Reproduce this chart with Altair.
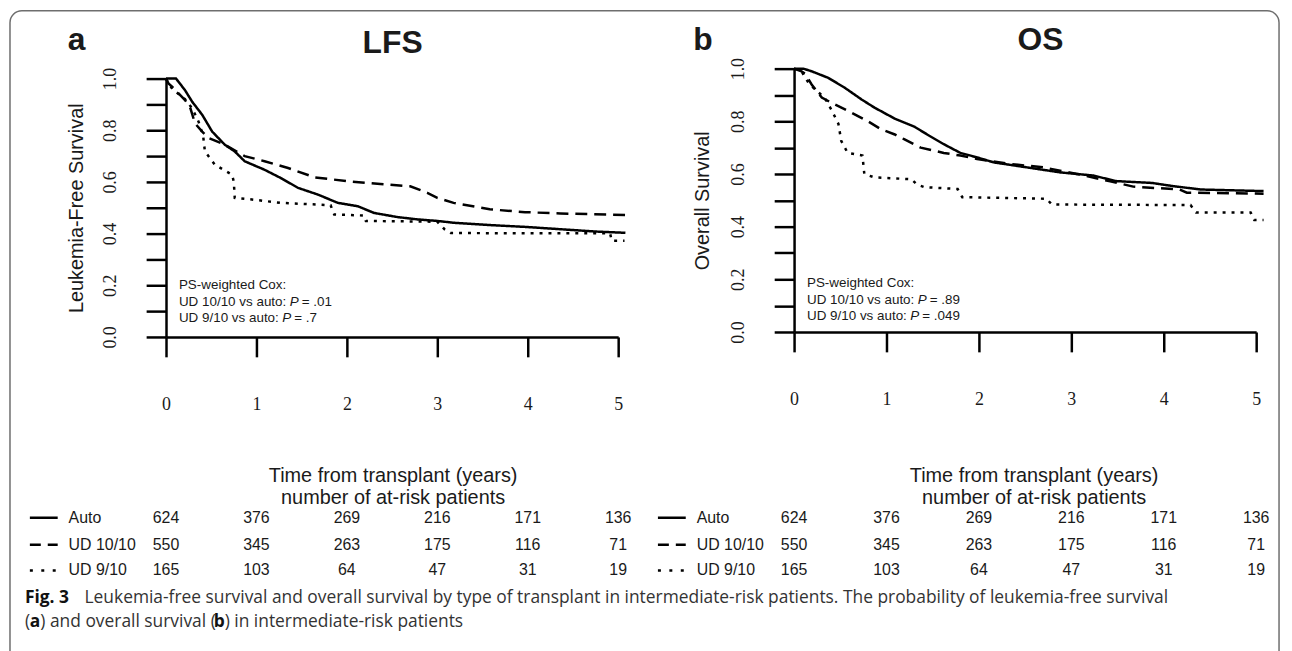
import altair as alt
import pandas as pd

# ---------------- data ----------------
groups = ["Auto", "UD 10/10", "UD 9/10"]

# LFS (panel a)
lfs_auto_t = [0, 0.11, 0.14, 0.21, 0.29, 0.40, 0.51, 0.65, 0.76, 0.87, 1.09, 1.27, 1.46, 1.68, 1.90, 2.12, 2.30, 2.56, 2.78, 3.0, 3.18, 3.58, 3.97, 4.36, 4.75, 5.08]
lfs_auto_s = [1.0, 1.0, 0.987, 0.955, 0.91, 0.86, 0.795, 0.744, 0.718, 0.68, 0.647, 0.615, 0.577, 0.551, 0.519, 0.506, 0.48, 0.464, 0.455, 0.449, 0.442, 0.433, 0.426, 0.417, 0.408, 0.403]
lfs_ud10_t = [0, 0.03, 0.07, 0.21, 0.27, 0.32, 0.40, 0.47, 0.65, 0.87, 1.09, 1.35, 1.64, 2.0, 2.37, 2.70, 2.89, 3.0, 3.18, 3.58, 3.97, 4.36, 5.08]
lfs_ud10_s = [1.0, 0.98, 0.968, 0.917, 0.885, 0.827, 0.795, 0.77, 0.744, 0.70, 0.68, 0.654, 0.618, 0.603, 0.592, 0.583, 0.558, 0.538, 0.519, 0.494, 0.483, 0.478, 0.472]
lfs_ud9_t = [0, 0.03, 0.07, 0.21, 0.29, 0.36, 0.41, 0.43, 0.54, 0.73, 0.75, 0.76, 0.95, 1.27, 1.82, 1.86, 2.19, 2.21, 3.0, 3.08, 3.15, 4.91, 4.93, 5.07]
lfs_ud9_s = [1.0, 0.98, 0.96, 0.92, 0.885, 0.833, 0.78, 0.718, 0.667, 0.628, 0.60, 0.538, 0.532, 0.519, 0.51, 0.474, 0.47, 0.449, 0.446, 0.417, 0.402, 0.401, 0.372, 0.372]

# OS (panel b)
os_auto_t = [0, 0.10, 0.19, 0.37, 0.55, 0.73, 0.87, 1.09, 1.30, 1.44, 1.62, 1.80, 1.98, 2.16, 2.52, 2.88, 3.24, 3.48, 3.87, 4.1, 4.4, 5.08]
os_auto_s = [1.0, 1.0, 0.99, 0.965, 0.927, 0.883, 0.852, 0.81, 0.78, 0.75, 0.713, 0.68, 0.663, 0.644, 0.625, 0.606, 0.594, 0.573, 0.566, 0.554, 0.541, 0.535]
os_ud10_t = [0, 0.08, 0.12, 0.19, 0.30, 0.44, 0.62, 0.80, 0.94, 1.09, 1.19, 1.37, 1.62, 1.80, 1.98, 2.34, 2.70, 3.06, 3.42, 3.67, 4.17, 4.25, 5.08]
os_ud10_s = [1.0, 0.99, 0.98, 0.94, 0.89, 0.864, 0.833, 0.80, 0.77, 0.75, 0.732, 0.70, 0.68, 0.67, 0.657, 0.638, 0.625, 0.60, 0.572, 0.552, 0.541, 0.529, 0.525]
os_ud9_t = [0, 0.08, 0.16, 0.23, 0.33, 0.41, 0.48, 0.51, 0.58, 0.74, 0.76, 0.87, 1.27, 1.33, 1.41, 1.77, 1.82, 2.73, 2.79, 4.29, 4.35, 4.94, 4.98, 5.08]
os_ud9_s = [1.0, 0.99, 0.944, 0.92, 0.89, 0.84, 0.79, 0.726, 0.68, 0.67, 0.60, 0.587, 0.58, 0.56, 0.55, 0.543, 0.512, 0.506, 0.484, 0.482, 0.454, 0.454, 0.425, 0.425]

# at-risk table
years = [0, 1, 2, 3, 4, 5]
risk_auto = [624, 376, 269, 216, 171, 136]
risk_ud10 = [550, 345, 263, 175, 116, 71]
risk_ud9 = [165, 103, 64, 47, 31, 19]

y_ticks = [0.0, 0.1, 0.2, 0.3, 0.4, 0.5, 0.6, 0.7, 0.8, 0.9, 1.0]

W, H = 1284, 643
SANS = "Liberation Sans"
SERIF = "Liberation Serif"
CAP = "Open Sans"
INK = "#1a1a1a"


def curves(series):
    rows = []
    for g, (ts, ss) in zip(groups, series):
        for i, (t, s) in enumerate(zip(ts, ss)):
            rows.append({"t": t, "s": s, "group": g, "i": i})
    return pd.DataFrame(rows)


def txt(text, x, y, size, font=SANS, align="left", baseline="middle",
        weight="normal", style="normal", color=INK):
    return alt.Chart(pd.DataFrame({"label": [text]})).mark_text(
        align=align, baseline=baseline, font=font, fontSize=size,
        fontWeight=weight, fontStyle=style, color=color
    ).encode(x=alt.value(x), y=alt.value(y), text="label:N")


def panel(series, xr, yr, ytitle, ytx, yty, xtx, xty, ann, base, row_y):
    x0 = xr[0]
    y_axis_pos = yr[0]
    xaxis = alt.Axis(
        orient="bottom", offset=y_axis_pos - H, values=years, format="d",
        tickSize=20, tickWidth=2.5, tickColor="black",
        domainWidth=2.5, domainColor="black", grid=False,
        labelFont=SERIF, labelFontSize=18, labelColor=INK, labelAngle=0,
        labelBaseline="middle", labelAlign="center", labelPadding=48,
        labelFlush=False, labelOverlap=False,
        title=["Time from transplant (years)", "number of at-risk patients"],
        titleFont=SANS, titleFontSize=20, titleFontWeight="normal",
        titleColor=INK, titleLineHeight=23, titleX=xtx, titleY=xty,
        titleAlign="center", titleBaseline="middle", titleAngle=0,
    )
    yaxis = alt.Axis(
        orient="left", offset=-x0, values=y_ticks,
        labelExpr="round(datum.value*10) % 2 == 0 ? format(datum.value, '.1f') : ''",
        tickSize=20, tickWidth=2.5, tickColor="black",
        domainWidth=2.5, domainColor="black", grid=False,
        labelFont=SERIF, labelFontSize=18, labelColor=INK, labelAngle=270,
        labelAlign="center", labelBaseline="middle", labelPadding=35.5,
        labelOverlap=False, labelFlush=False,
        title=ytitle, titleFont=SANS, titleFontSize=20,
        titleFontWeight="normal", titleColor=INK, titleAngle=270,
        titleAlign="center", titleBaseline="middle", titleX=ytx, titleY=yty,
    )
    xs = alt.Scale(domain=[0, 5], range=list(xr), nice=False, zero=False)
    ys = alt.Scale(domain=[0, 1], range=list(yr), nice=False, zero=False)

    lines = alt.Chart(curves(series)).mark_line(
        color="black", strokeWidth=2.5, strokeCap="butt", interpolate="linear"
    ).encode(
        x=alt.X("t:Q", scale=xs, axis=xaxis),
        y=alt.Y("s:Q", scale=ys, axis=yaxis),
        strokeDash=alt.StrokeDash(
            "group:N",
            scale=alt.Scale(domain=groups, range=[[1, 0], [12, 7], [3, 6]]),
            legend=None,
        ),
        detail="group:N",
        order="i:Q",
    )

    layers = [lines]
    # annotation
    ax, ay = ann["x"], ann["y"]
    layers.append(txt("PS-weighted Cox:", ax, ay[0], 13.5))
    layers.append(txt("UD 10/10 vs auto:", ax, ay[1], 13.5))
    layers.append(txt("P", ax + 111.5, ay[1], 13.5, style="italic"))
    layers.append(txt(ann["p1"], ax + 123.5, ay[1], 13.5))
    layers.append(txt("UD 9/10 vs auto:", ax, ay[2], 13.5))
    layers.append(txt("P", ax + 104, ay[2], 13.5, style="italic"))
    layers.append(txt(ann["p2"], ax + 116, ay[2], 13.5))

    # at-risk table
    dashes = [[1, 0], [11, 7], [3, 8.5]]
    for g, vals, ry, dsh in zip(groups, [risk_auto, risk_ud10, risk_ud9], row_y, dashes):
        df = pd.DataFrame({"t": years, "n": [str(v) for v in vals]})
        layers.append(
            alt.Chart(df).mark_text(
                align="center", baseline="middle", font=SANS, fontSize=16, color=INK
            ).encode(x=alt.X("t:Q", scale=xs, axis=xaxis), y=alt.value(ry), text="n:N")
        )
        layers.append(
            alt.Chart(pd.DataFrame({"g": [g]})).mark_rule(
                color="black", strokeWidth=2.5, strokeDash=dsh, strokeCap="butt"
            ).encode(x=alt.value(base), x2=alt.value(base + 28), y=alt.value(ry))
        )
        layers.append(txt(g, base + 39, ry, 16))
    return alt.layer(*layers)


row_y = [511, 538, 564]

left = panel(
    [(lfs_auto_t, lfs_auto_s), (lfs_ud10_t, lfs_ud10_s), (lfs_ud9_t, lfs_ud9_s)],
    xr=(159, 614), yr=(329, 69), ytitle="Leukemia-Free Survival",
    ytx=-90.5, yty=199, xtx=387, xty=139,
    ann={"x": 172, "y": [277, 294, 310], "p1": "= .01", "p2": "= .7"},
    base=22, row_y=row_y,
)
right = panel(
    [(os_auto_t, os_auto_s), (os_ud10_t, os_ud10_s), (os_ud9_t, os_ud9_s)],
    xr=(791, 1256), yr=(324, 59), ytitle="Overall Survival",
    ytx=-92, yty=191.5, xtx=1032, xty=144,
    ann={"x": 804, "y": [275, 292, 308], "p1": "= .89", "p2": "= .049"},
    base=654, row_y=row_y,
)

frame = alt.Chart(pd.DataFrame({"f": [0]})).mark_rect(
    fillOpacity=0, stroke="#6e6e6e", strokeWidth=1.5, cornerRadius=12
).encode(x=alt.value(2), x2=alt.value(1279), y=alt.value(0.75), y2=alt.value(665))

heads = [
    txt("a", 60, 40.5, 32, weight="bold", baseline="alphabetic"),
    txt("LFS", 387, 43.5, 32, weight="bold", align="center", baseline="alphabetic"),
    txt("b", 689.5, 40.5, 32, weight="bold", baseline="alphabetic"),
    txt("OS", 1039, 40.5, 32, weight="bold", align="center", baseline="alphabetic"),
]

CS = 17.5
caption = [
    txt("Fig. 3", 17, 592, CS, font=CAP, weight="bold", color="#111"),
    txt("Leukemia-free survival and overall survival by type of transplant in intermediate-risk patients. "
        "The probability of leukemia-free survival", 77, 592, CS, font=CAP, color="#333"),
    txt("(", 17, 616, CS, font=CAP, color="#333"),
    txt("a", 22, 616, CS, font=CAP, weight="bold", color="#111"),
    txt(") and overall survival (", 32.5, 616, CS, font=CAP, color="#333"),
    txt("b", 207, 616, CS, font=CAP, weight="bold", color="#111"),
    txt(") in intermediate-risk patients", 218, 616, CS, font=CAP, color="#333"),
]

chart = alt.layer(frame, *heads, left, right, *caption).resolve_scale(
    x="independent", y="independent"
).properties(
    width=W, height=H, autosize=alt.AutoSizeParams(type="none"), padding=0,
    background="white",
).configure_view(stroke=None)

chart.save("out.html", embed_options={"renderer": "svg", "actions": False})
